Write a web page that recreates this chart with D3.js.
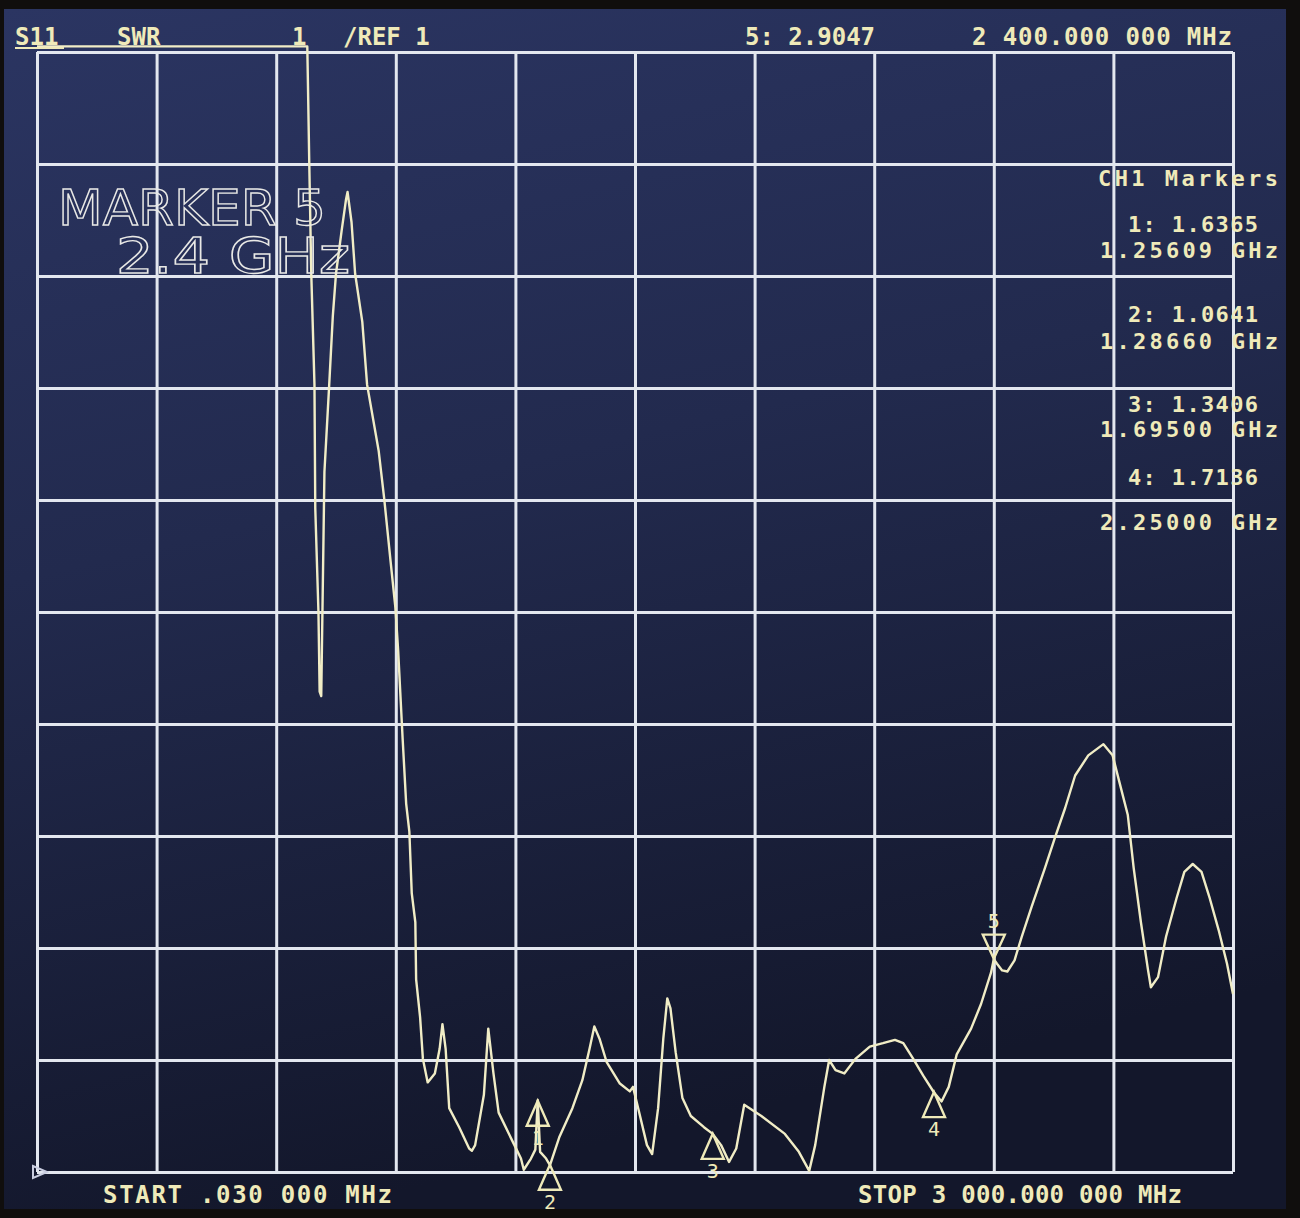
<!doctype html>
<meta charset="utf-8">
<title>S11 SWR</title>
<script src="https://cdn.jsdelivr.net/npm/d3@7"></script>
<style>
body { margin: 0; background: #0e0d0c; }
svg { display: block; }
</style>
<body>
<div id="chart"></div>
<script>

// sweep settings
var startGHz = 0.00003
  , stopGHz = 3
  , refSwr = 1
  , swrPerDiv = 1
  , divisions = 10;

// trace (SWR above 11 is off screen)
var traceGHz = [0.000, 0.678, 0.680, 0.683, 0.688, 0.696, 0.698, 0.706, 0.709, 0.713,
  0.721, 0.733, 0.742, 0.750, 0.764, 0.775, 0.779, 0.789, 0.798, 0.816,
  0.828, 0.857, 0.871, 0.887, 0.899, 0.906, 0.915, 0.917, 0.926, 0.934,
  0.940, 0.949, 0.951, 0.961, 0.968, 0.980, 0.998, 1.010, 1.017, 1.025,
  1.034, 1.059, 1.084, 1.091, 1.099, 1.121, 1.132, 1.145, 1.158, 1.192,
  1.214, 1.221, 1.239, 1.250, 1.256, 1.262, 1.277, 1.2866, 1.310, 1.343,
  1.368, 1.386, 1.398, 1.411, 1.429, 1.462, 1.487, 1.495, 1.508, 1.530,
  1.543, 1.558, 1.571, 1.581, 1.589, 1.602, 1.619, 1.640, 1.673, 1.695,
  1.716, 1.736, 1.754, 1.774, 1.817, 1.876, 1.911, 1.937, 1.952, 1.975,
  1.987, 2.003, 2.025, 2.053, 2.089, 2.122, 2.152, 2.173, 2.198, 2.223,
  2.250, 2.269, 2.287, 2.307, 2.343, 2.368, 2.393, 2.400, 2.408, 2.421,
  2.434, 2.452, 2.470, 2.495, 2.528, 2.553, 2.579, 2.604, 2.637, 2.675,
  2.698, 2.713, 2.736, 2.751, 2.769, 2.787, 2.794, 2.812, 2.832, 2.858,
  2.878, 2.899, 2.921, 2.942, 2.964, 2.985, 3.000];
var traceSwr = [15, 15, 10.64, 10.0, 9.02, 8.03, 6.93, 6.0, 5.29, 5.25,
  7.25, 8.03, 8.64, 9.02, 9.40, 9.68, 9.75, 9.48, 9.02, 8.59,
  8.03, 7.44, 7.01, 6.45, 6.04, 5.65, 5.02, 4.88, 4.29, 4.04,
  3.49, 3.23, 2.72, 2.38, 2.01, 1.80, 1.88, 2.10, 2.32, 2.10,
  1.57, 1.40, 1.21, 1.19, 1.24, 1.69, 2.28, 1.88, 1.53, 1.28,
  1.12, 1.02, 1.12, 1.20, 1.64, 1.18, 1.12, 1.06, 1.31, 1.57,
  1.82, 2.10, 2.30, 2.19, 1.98, 1.79, 1.72, 1.76, 1.57, 1.24,
  1.16, 1.57, 2.19, 2.55, 2.46, 2.07, 1.66, 1.50, 1.40, 1.34,
  1.24, 1.09, 1.21, 1.60, 1.50, 1.34, 1.18, 1.01, 1.24, 1.76,
  2.00, 1.91, 1.88, 2.01, 2.12, 2.15, 2.18, 2.15, 2.01, 1.86,
  1.71, 1.63, 1.76, 2.05, 2.28, 2.50, 2.78, 2.90, 2.86, 2.80,
  2.79, 2.89, 3.10, 3.37, 3.71, 3.98, 4.25, 4.54, 4.72, 4.82,
  4.72, 4.51, 4.19, 3.71, 3.23, 2.80, 2.65, 2.74, 3.10, 3.44,
  3.68, 3.75, 3.68, 3.44, 3.16, 2.86, 2.59];

// markers
var markerIds = [1, 2, 3, 4, 5];
var markerGHz = [1.25609, 1.28660, 1.69500, 2.25000, 2.40000];
var markerSwr = [1.6365, 1.0641, 1.3406, 1.7136, 2.9047];
var activeMarker = 5;

// texts on the screen
var headerLabels = ['S11', 'SWR', '1', '/REF 1', '2 400.000 000 MHz'];
var readoutTitle = 'CH1 Markers';
var footerLabels = ['START .030 000 MHz', 'STOP 3 000.000 000 MHz'];
var bigLabels = ['MARKER 5', '2.4 GHz'];

var W = 1300, H = 1218
  , plot = { left: 37, right: 1233, top: 52, bottom: 1172 }
  , ink = '#efeab9'
  , gridInk = '#e3e7ef'
  , mono = '"DejaVu Sans Mono", monospace';

var svg = d3.select('#chart').append('svg')
  .attr('width', W)
  .attr('height', H);

var defs = svg.append('defs');
var grad = defs.append('linearGradient').attr('id', 'screen')
  .attr('x1', 0).attr('y1', 0).attr('x2', 0.25).attr('y2', 1);
grad.append('stop').attr('offset', '0%').attr('stop-color', '#2b3562');
grad.append('stop').attr('offset', '45%').attr('stop-color', '#222a4e');
grad.append('stop').attr('offset', '100%').attr('stop-color', '#13172b');

// photo border + screen
svg.append('rect').attr('width', W).attr('height', H).attr('fill', '#100e0d');
svg.append('rect')
  .attr('x', 4).attr('y', 9)
  .attr('width', 1282).attr('height', 1200)
  .attr('fill', 'url(#screen)');

var x = d3.scaleLinear().domain([startGHz, stopGHz]).range([plot.left, plot.right]);
var y = d3.scaleLinear().domain([refSwr, refSwr + divisions*swrPerDiv]).range([plot.bottom, plot.top]);

var xTicks = d3.range(divisions + 1).map(function(i) { return startGHz + i*(stopGHz - startGHz)/divisions; })
  , yTicks = d3.range(divisions + 1).map(function(i) { return refSwr + i*swrPerDiv; });

// graticule
var gx = svg.append('g')
  .attr('transform', 'translate(0,' + plot.bottom + ')')
  .call(d3.axisBottom(x).tickValues(xTicks).tickSize(-(plot.bottom - plot.top)).tickFormat(''));
var gy = svg.append('g')
  .attr('transform', 'translate(' + plot.left + ',0)')
  .call(d3.axisLeft(y).tickValues(yTicks).tickSize(-(plot.right - plot.left)).tickFormat(''));
[gx, gy].forEach(function(g) {
  g.select('.domain').remove();
  g.selectAll('line').attr('stroke', gridInk).attr('stroke-width', 3);
});

// trace, clipped just above the top line like the instrument does
var swrClip = refSwr + divisions*swrPerDiv + 0.05;
var line = d3.line()
  .x(function(d) { return x(d[0]); })
  .y(function(d) { return y(Math.min(d[1], swrClip)); });
svg.append('path')
  .datum(d3.zip(traceGHz, traceSwr))
  .attr('d', line)
  .attr('fill', 'none')
  .attr('stroke', '#f1edc6')
  .attr('stroke-width', 2.4)
  .attr('stroke-linejoin', 'round');

// marker glyphs
var mk = svg.append('g').selectAll('g.marker')
  .data(markerIds.map(function(id, i) { return { id: id, f: markerGHz[i], v: markerSwr[i] }; }))
  .enter().append('g')
  .attr('transform', function(d) { return 'translate(' + x(d.f) + ',' + y(d.v) + ')'; });
mk.append('path')
  .attr('d', function(d) { return d.id === activeMarker ? 'M0,0L-11,-24L11,-24Z' : 'M0,0L-11,25L11,25Z'; })
  .attr('fill', 'none')
  .attr('stroke', ink)
  .attr('stroke-width', 2.4);
mk.append('text')
  .attr('y', function(d) { return d.id === activeMarker ? -31 : 44; })
  .attr('text-anchor', 'middle')
  .style('font', '20px ' + mono)
  .attr('fill', ink)
  .text(function(d) { return d.id; });

// reference position arrow
svg.append('path')
  .attr('d', 'M' + (plot.left - 4) + ',' + (plot.bottom - 6) + 'l14,6l-14,6z')
  .attr('fill', 'none')
  .attr('stroke', '#c9cde0')
  .attr('stroke-width', 2);

// header line
var hx = [15, 117, 292, 343, 972];
var header = svg.append('g').style('font', 'bold 24px ' + mono).attr('fill', ink);
headerLabels.forEach(function(t, i) {
  header.append('text').attr('x', hx[i]).attr('y', 45).text(t);
});
header.select('text:last-child').attr('textLength', 260).attr('lengthAdjust', 'spacing');
var m5 = markerIds.indexOf(activeMarker);
header.append('text').attr('x', 745).attr('y', 45)
  .text(activeMarker + ': ' + markerSwr[m5].toFixed(4));
svg.append('line')
  .attr('x1', 15).attr('x2', 64).attr('y1', 48).attr('y2', 48)
  .attr('stroke', ink).attr('stroke-width', 2);

// marker readout block on the right
var ro = svg.append('g').style('font', 'bold 22px ' + mono).attr('fill', ink);
ro.append('text').attr('x', 1098).attr('y', 186)
  .attr('textLength', 180).attr('lengthAdjust', 'spacing').text(readoutTitle);
var valueY = [232, 322, 412, 485]
  , freqY = [258, 349, 437, 530];
markerIds.forEach(function(id, i) {
  if (id === activeMarker) return;
  ro.append('text').attr('x', 1128).attr('y', valueY[i])
    .attr('textLength', 130).attr('lengthAdjust', 'spacing')
    .text(id + ': ' + markerSwr[i].toFixed(4));
  ro.append('text').attr('x', 1100).attr('y', freqY[i])
    .attr('textLength', 178).attr('lengthAdjust', 'spacing')
    .text(markerGHz[i].toFixed(5) + ' GHz');
});

// footer
var foot = svg.append('g').style('font', 'bold 24px ' + mono).attr('fill', ink);
foot.append('text').attr('x', 103).attr('y', 1203)
  .attr('textLength', 289).attr('lengthAdjust', 'spacing').text(footerLabels[0]);
foot.append('text').attr('x', 858).attr('y', 1203)
  .attr('textLength', 324).attr('lengthAdjust', 'spacing').text(footerLabels[1]);

// big outlined marker annotation
var big = svg.append('g')
  .style('font', '50px "DejaVu Sans", sans-serif')
  .attr('fill', 'none')
  .attr('stroke', '#e9e9e6')
  .attr('stroke-width', 1.4);
big.append('text').attr('x', 58).attr('y', 225)
  .attr('textLength', 268).attr('lengthAdjust', 'spacingAndGlyphs').text(bigLabels[0]);
big.append('text').attr('x', 116).attr('y', 273)
  .attr('textLength', 234).attr('lengthAdjust', 'spacingAndGlyphs').text(bigLabels[1]);

</script>
</body>
